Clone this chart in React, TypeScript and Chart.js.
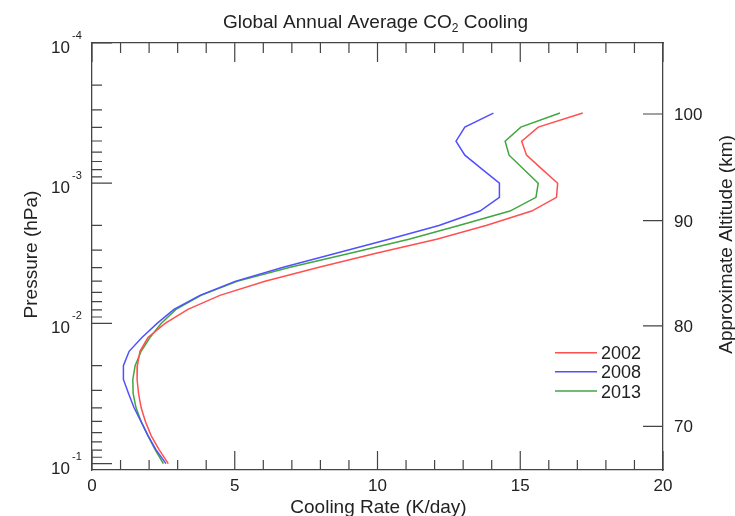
import React, { useEffect, useRef } from 'react';
import { Chart, registerables } from 'chart.js';

Chart.register(...registerables);

// Pressure levels (hPa), top of profile to bottom
const pressureLevels = [
  3.16e-4, 3.98e-4, 5.01e-4, 6.31e-4, 7.94e-4, 1.0e-3, 1.26e-3, 1.58e-3, 2.0e-3, 2.51e-3,
  3.16e-3, 3.98e-3, 5.01e-3, 6.31e-3, 7.94e-3, 1.0e-2, 1.26e-2, 1.58e-2, 2.0e-2, 2.51e-2,
  3.16e-2, 3.98e-2, 5.01e-2, 6.31e-2, 7.94e-2, 0.1,
];

// Cooling rates (K/day) at each pressure level
const cooling2002 = [
  17.19, 15.63, 15.05, 15.22, 15.76, 16.31, 16.27, 15.4, 13.8, 12.07,
  9.95, 7.95, 6.06, 4.48, 3.36, 2.56, 1.96, 1.68, 1.59, 1.58,
  1.63, 1.72, 1.87, 2.07, 2.35, 2.67,
];
const cooling2008 = [
  14.06, 13.06, 12.75, 13.06, 13.66, 14.27, 14.27, 13.59, 12.15, 10.4,
  8.55, 6.7, 5.01, 3.78, 2.87, 2.28, 1.75, 1.3, 1.1, 1.1,
  1.28, 1.47, 1.72, 1.96, 2.24, 2.59,
];
const cooling2013 = [
  16.39, 15.02, 14.47, 14.61, 15.12, 15.63, 15.55, 14.64, 12.85, 11.1,
  9.04, 6.94, 5.08, 3.82, 2.94, 2.42, 2.03, 1.72, 1.51, 1.43,
  1.44, 1.54, 1.72, 1.96, 2.21, 2.5,
];

const seriesLabels = ['2002', '2008', '2013'];
const seriesColors = ['#ff5050', '#5050ff', '#40a640'];

const xMajorTicks = [0, 5, 10, 15, 20];
const xTickLabels = ['0', '5', '10', '15', '20'];
const pressureDecades = [1e-4, 1e-3, 1e-2, 1e-1];
const pressureExponents = ['-4', '-3', '-2', '-1'];
const altitudeLabels = ['70', '80', '90', '100'];
const altitudePressures = [5.43e-2, 1.04e-2, 1.85e-3, 3.21e-4];

const titleMain = 'Global Annual Average CO';
const titleSub = '2';
const titleEnd = ' Cooling';
const xTitle = 'Cooling Rate (K/day)';
const yTitle = 'Pressure (hPa)';
const y2Title = 'Approximate Altitude (km)';

const FONT = '"Liberation Sans", Arial, Helvetica, sans-serif';
const TEXT = '#222';

const decorPlugin = {
  id: 'decor',
  afterDraw(chart: any) {
    const ctx = chart.ctx as CanvasRenderingContext2D;
    const { left, right, top, bottom } = chart.chartArea;
    const xs = chart.scales.x;
    const ys = chart.scales.y;
    ctx.save();

    // inward tick marks
    ctx.strokeStyle = '#444';
    ctx.lineWidth = 1.2;
    ctx.beginPath();
    for (let v = xs.min; v <= xs.max; v++) {
      const px = xs.getPixelForValue(v);
      const len = xMajorTicks.includes(v) ? 19 : 10;
      ctx.moveTo(px, bottom);
      ctx.lineTo(px, bottom - len);
      ctx.moveTo(px, top);
      ctx.lineTo(px, top + len);
    }
    for (const d of pressureDecades) {
      for (let m = 1; m <= 9; m++) {
        const v = d * m;
        if (v > ys.max * 1.0001) continue;
        const py = ys.getPixelForValue(v);
        const len = m === 1 ? 20 : 10;
        ctx.moveTo(left, py);
        ctx.lineTo(left + len, py);
      }
    }
    for (const p of altitudePressures) {
      const py = ys.getPixelForValue(p);
      ctx.moveTo(right, py);
      ctx.lineTo(right - 20, py);
    }
    ctx.stroke();

    ctx.fillStyle = TEXT;
    // x tick labels
    ctx.font = `17px ${FONT}`;
    ctx.textAlign = 'center';
    ctx.textBaseline = 'alphabetic';
    xMajorTicks.forEach((v, i) => {
      ctx.fillText(xTickLabels[i], xs.getPixelForValue(v), bottom + 21);
    });

    // left log labels with superscript exponent
    pressureDecades.forEach((d, i) => {
      const py = ys.getPixelForValue(d);
      ctx.font = `17px ${FONT}`;
      ctx.textAlign = 'right';
      ctx.fillText('10', left - 22, py + 10);
      ctx.font = `11px ${FONT}`;
      ctx.textAlign = 'left';
      ctx.fillText(pressureExponents[i], left - 20, py - 4);
    });

    // right altitude labels
    ctx.font = `17px ${FONT}`;
    ctx.textAlign = 'left';
    altitudePressures.forEach((p, i) => {
      ctx.fillText(altitudeLabels[i], right + 11, ys.getPixelForValue(p) + 6);
    });

    // title with subscript
    const cx = (left + right) / 2 - 2;
    ctx.font = `19px ${FONT}`;
    const w1 = ctx.measureText(titleMain).width;
    const w3 = ctx.measureText(titleEnd).width;
    ctx.font = `12px ${FONT}`;
    const w2 = ctx.measureText(titleSub).width;
    let tx = cx - (w1 + w2 + w3) / 2;
    ctx.textAlign = 'left';
    ctx.font = `19px ${FONT}`;
    ctx.fillText(titleMain, tx, 28);
    tx += w1;
    ctx.font = `12px ${FONT}`;
    ctx.fillText(titleSub, tx, 32);
    tx += w2;
    ctx.font = `19px ${FONT}`;
    ctx.fillText(titleEnd, tx, 28);

    // x axis title
    ctx.textAlign = 'center';
    ctx.fillText(xTitle, (left + right) / 2 + 1, 513);

    // y axis titles
    ctx.save();
    ctx.translate(36.5, (top + bottom) / 2 - 2);
    ctx.rotate(-Math.PI / 2);
    ctx.fillText(yTitle, 0, 0);
    ctx.restore();
    ctx.save();
    ctx.translate(731.5, (top + bottom) / 2 - 12);
    ctx.rotate(-Math.PI / 2);
    ctx.fillText(y2Title, 0, 0);
    ctx.restore();

    // legend
    const legendY = [352.7, 371.7, 391];
    ctx.font = `18px ${FONT}`;
    ctx.textAlign = 'left';
    seriesLabels.forEach((lab, i) => {
      ctx.strokeStyle = seriesColors[i];
      ctx.lineWidth = 1.5;
      ctx.beginPath();
      ctx.moveTo(555, legendY[i]);
      ctx.lineTo(597, legendY[i]);
      ctx.stroke();
      ctx.fillStyle = TEXT;
      ctx.fillText(lab, 601, legendY[i] + 6.5);
    });

    ctx.restore();
  },
};

export default function App() {
  const ref = useRef<HTMLCanvasElement | null>(null);

  useEffect(() => {
    if (!ref.current) return;
    const series = [cooling2002, cooling2008, cooling2013];
    const axisCommon = {
      grid: { display: false, drawTicks: false },
      border: { display: true, color: '#444', width: 1.3 },
      ticks: { display: false },
      title: { display: false },
    };
    const chart = new Chart(ref.current, {
      type: 'scatter',
      data: {
        datasets: series.map((vals, i) => ({
          label: seriesLabels[i],
          data: vals.map((v, j) => ({ x: v, y: pressureLevels[j] })),
          showLine: true,
          borderColor: seriesColors[i],
          backgroundColor: seriesColors[i],
          borderWidth: 1.5,
          pointRadius: 0,
          tension: 0,
          xAxisID: 'x',
          yAxisID: 'y',
        })),
      },
      options: {
        animation: false,
        responsive: false,
        maintainAspectRatio: false,
        layout: { padding: { top: 43, left: 0, right: 0, bottom: 0 } },
        plugins: {
          legend: { display: false },
          title: { display: false },
          tooltip: { enabled: false },
        },
        scales: {
          x: {
            type: 'linear', position: 'bottom', min: 0, max: 20, ...axisCommon,
            afterFit: (s: any) => { s.height = 46; },
          },
          x2: {
            type: 'linear', position: 'top', min: 0, max: 20, ...axisCommon,
            afterFit: (s: any) => { s.height = 0; },
          },
          y: {
            type: 'logarithmic', position: 'left', min: 1e-4, max: 0.111, reverse: true, ...axisCommon,
            afterFit: (s: any) => { s.width = 92; },
          },
          y2: {
            type: 'logarithmic', position: 'right', min: 1e-4, max: 0.111, reverse: true, ...axisCommon,
            afterFit: (s: any) => { s.width = 72; },
          },
        },
      } as any,
      plugins: [decorPlugin],
    });
    return () => chart.destroy();
  }, []);

  return (
    <div style={{ position: 'fixed', left: 0, top: 0, width: 735, height: 516, background: '#fff' }}>
      <canvas ref={ref} width={735} height={516} style={{ display: 'block' }} />
    </div>
  );
}
